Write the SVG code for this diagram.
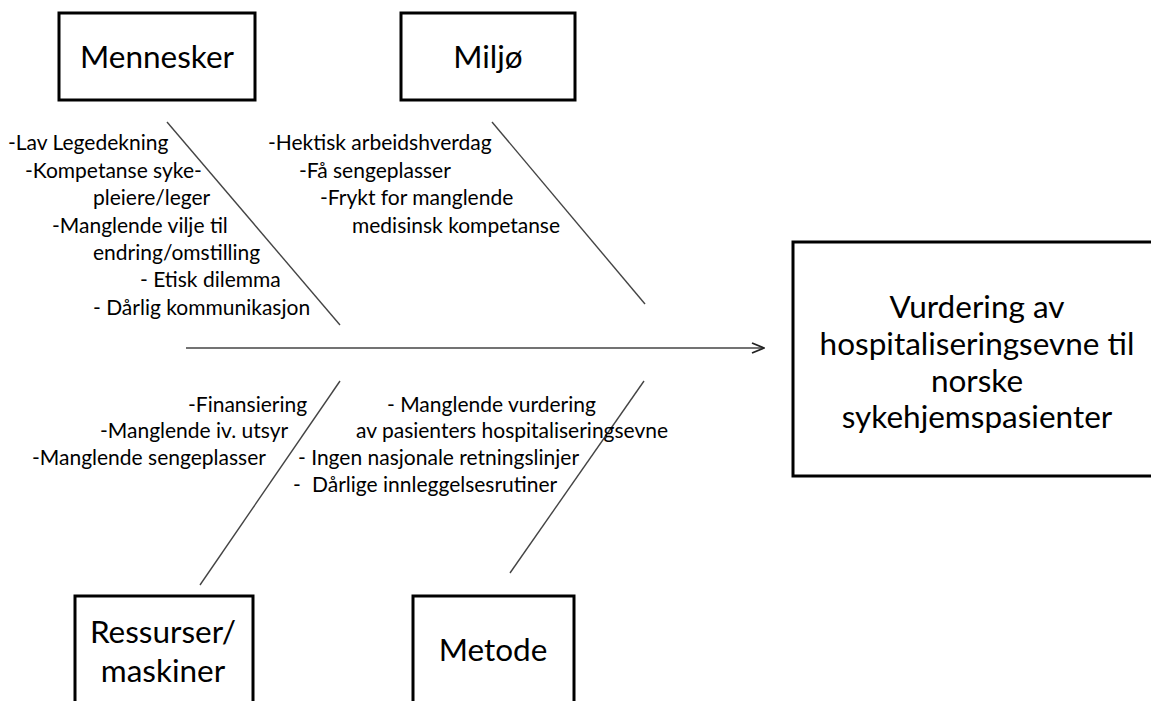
<svg xmlns="http://www.w3.org/2000/svg" width="1151" height="701" viewBox="0 0 1151 701">
<defs>
<style>
.box{fill:#fff;stroke:#000;stroke-width:3}
.lbl{font-family:Lato,"Liberation Sans",sans-serif;font-size:31.5px;fill:#000;text-anchor:middle}
.big{font-family:Lato,"Liberation Sans",sans-serif;font-size:31.5px;fill:#000;text-anchor:middle}
.t{font-family:Lato,"Liberation Sans",sans-serif;font-size:21px;fill:#000}
.bone{stroke:#444;stroke-width:1.4;fill:none}
</style>
<marker id="arr" viewBox="0 0 14 12" refX="13" refY="6" markerWidth="14" markerHeight="12" markerUnits="userSpaceOnUse" orient="auto">
<path d="M1,1 L13,6 L1,11" fill="none" stroke="#222" stroke-width="1.8"/>
</marker>
</defs>
<rect width="1151" height="701" fill="#fff"/>
<g id="connectors">
<line class="bone" x1="186" y1="348" x2="764" y2="348" stroke-width="2" marker-end="url(#arr)"/>
<line class="bone" x1="167" y1="122" x2="340" y2="325"/>
<line class="bone" x1="492" y1="122" x2="645" y2="304"/>
<line class="bone" x1="340" y1="381" x2="200" y2="585"/>
<line class="bone" x1="644" y1="381" x2="510" y2="573"/>
</g>
<g id="mennesker">
<rect class="box" x="59" y="13" width="196" height="87"/>
<text class="lbl" x="157" y="68">Mennesker</text>
</g>
<g id="miljo">
<rect class="box" x="401" y="13" width="174" height="87"/>
<text class="lbl" x="488" y="68">Miljø</text>
</g>
<g id="ressurser">
<rect class="box" x="75" y="596" width="178" height="120"/>
<text class="lbl" x="163" y="643">Ressurser/</text>
<text class="lbl" x="163" y="682">maskiner</text>
</g>
<g id="metode">
<rect class="box" x="413" y="596" width="161" height="120"/>
<text class="lbl" x="493" y="661">Metode</text>
</g>
<g id="effekt">
<rect class="box" x="793" y="242" width="370" height="234"/>
<text class="big" x="977" y="318">Vurdering av</text>
<text class="big" x="977" y="355">hospitaliseringsevne til</text>
<text class="big" x="977" y="392">norske</text>
<text class="big" x="977" y="428">sykehjemspasienter</text>
</g>
<g id="mennesker-arsaker">
<text class="t" x="8" y="150">-Lav Legedekning</text>
<text class="t" x="25" y="178">-Kompetanse syke-</text>
<text class="t" x="93" y="205">pleiere/leger</text>
<text class="t" x="52" y="233">-Manglende vilje til</text>
<text class="t" x="93" y="260">endring/omstilling</text>
<text class="t" x="140" y="287">- Etisk dilemma</text>
<text class="t" x="93" y="315">- Dårlig kommunikasjon</text>
</g>
<g id="miljo-arsaker">
<text class="t" x="268" y="150">-Hektisk arbeidshverdag</text>
<text class="t" x="299" y="178">-Få sengeplasser</text>
<text class="t" x="320" y="205">-Frykt for manglende</text>
<text class="t" x="352" y="233">medisinsk kompetanse</text>
</g>
<g id="ressurser-arsaker">
<text class="t" x="188" y="412">-Finansiering</text>
<text class="t" x="100" y="438">-Manglende iv. utsyr</text>
<text class="t" x="32" y="465">-Manglende sengeplasser</text>
</g>
<g id="metode-arsaker">
<text class="t" x="387" y="412">- Manglende vurdering</text>
<text class="t" x="356" y="438">av pasienters hospitaliseringsevne</text>
<text class="t" x="298" y="465">- Ingen nasjonale retningslinjer</text>
<text class="t" x="293" y="492">-<tspan x="312">Dårlige innleggelsesrutiner</tspan></text>
</g>
</svg>
